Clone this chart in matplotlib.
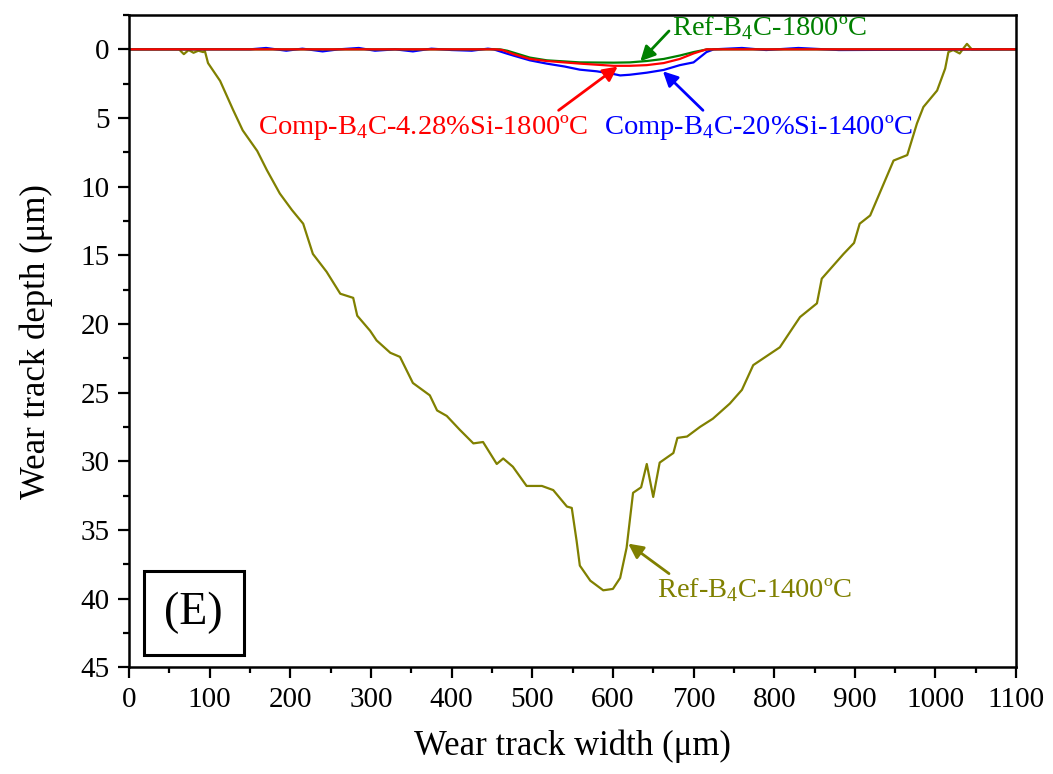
import numpy as np
import matplotlib
matplotlib.use("Agg")
import matplotlib.pyplot as plt
from matplotlib.ticker import MultipleLocator

plt.rcParams['font.family'] = ['Liberation Serif', 'DejaVu Serif']
plt.rcParams['mathtext.fontset'] = 'custom'
plt.rcParams['mathtext.rm'] = 'Liberation Serif'

# Ref-B4C-1400ºC profile (olive)
x_ref1400 = [0, 40, 62, 68, 74, 80, 86, 92, 94, 98, 113, 129, 141, 159, 171, 187, 202, 216, 228,
             245, 262, 278, 283, 299, 307, 324, 336, 352, 373, 382, 394, 410, 427, 439, 456, 464,
             476, 493, 512, 526, 543, 549, 555, 559, 572, 588, 600, 609, 617, 625, 635, 642, 650,
             658, 675, 680, 692, 708, 724, 745, 760, 774, 807, 824, 832, 853, 859, 886, 899, 906,
             919, 948, 965, 977, 985, 1002, 1012, 1016, 1022, 1030, 1035, 1039, 1045, 1100]
d_ref1400 = [0, 0, 0, 0.35, 0.05, 0.25, 0.1, 0.2, 0.1, 1.0, 2.3, 4.4, 5.9, 7.4, 8.8, 10.5, 11.7, 12.7, 14.9,
             16.2, 17.8, 18.1, 19.4, 20.5, 21.2, 22.1, 22.4, 24.3, 25.2, 26.3, 26.7, 27.7, 28.7, 28.6, 30.2, 29.8,
             30.4, 31.8, 31.8, 32.1, 33.3, 33.4, 35.8, 37.6, 38.7, 39.4, 39.3, 38.5, 36.3, 32.3, 31.9, 30.2, 32.6,
             30.1, 29.4, 28.3, 28.2, 27.5, 26.9, 25.8, 24.8, 23.0, 21.7, 20.2, 19.5, 18.5, 16.7, 14.9, 14.1, 12.7,
             12.1, 8.1, 7.7, 5.4, 4.2, 3.0, 1.4, 0.2, 0.05, 0.3, -0.1, -0.4, 0, 0]

# Ref-B4C-1800ºC (green)
x_ref1800 = [0, 460, 469, 497, 518, 559, 601, 621, 642, 663, 683, 700, 717, 1100]
d_ref1800 = [0, 0, 0.1, 0.6, 0.8, 0.95, 0.97, 0.95, 0.85, 0.7, 0.45, 0.2, 0, 0]

# Comp-B4C-4.28%Si-1800ºC (red)
x_comp1800 = [0, 455, 463, 477, 497, 518, 559, 601, 621, 642, 663, 683, 700, 716, 1100]
d_comp1800 = [0, 0, 0.05, 0.35, 0.7, 0.85, 1.04, 1.2, 1.2, 1.15, 1.0, 0.7, 0.3, 0, 0]

# Comp-B4C-20%Si-1400ºC (blue)
x_comp1400 = [0, 150, 170, 195, 215, 240, 260, 285, 305, 330, 352, 375, 400, 425, 445, 452, 468, 477,
              497, 518, 540, 559, 580, 601, 609, 621, 642, 663, 683, 700, 716, 725, 760, 790, 830, 880, 1100]
d_comp1400 = [0, 0, -0.1, 0.1, -0.05, 0.15, 0.0, -0.1, 0.1, 0.0, 0.15, -0.05, 0.05, 0.1, -0.05, 0.0, 0.3, 0.46,
              0.8, 1.04, 1.25, 1.48, 1.6, 1.8, 1.9, 1.85, 1.7, 1.5, 1.15, 0.95, 0.2, 0, -0.1, 0.05, -0.1, 0.05, 0]

fig = plt.figure(figsize=(10.53, 7.74), dpi=100)
ax = fig.add_axes([0.1225, 0.138, 0.8425, 0.8426])

ax.plot(x_ref1400, d_ref1400, color='#808000', lw=1.6)
ax.plot(x_comp1400, d_comp1400, color='#0000ff', lw=1.6)
ax.plot(x_ref1800, d_ref1800, color='#008000', lw=1.6)
ax.plot(x_comp1800, d_comp1800, color='#ff0000', lw=1.6)

ax.set_xlim(0, 1100)
ax.xaxis.set_major_locator(MultipleLocator(100))
ax.xaxis.set_minor_locator(MultipleLocator(50))
ax.yaxis.set_minor_locator(MultipleLocator(2.5))
ax.set_yticks(np.arange(0, 46, 5))
ax.set_ylim(45, -2.5)
ax.tick_params(which='major', direction='out', length=8, width=1.6, labelsize=21, pad=6)
ax.tick_params(which='minor', direction='out', length=4.5, width=1.6)
for s in ax.spines.values():
    s.set_linewidth(1.8)

ax.set_xlabel('Wear track width (μm)', fontsize=25, labelpad=12)
ax.set_ylabel('Wear track depth (μm)', fontsize=25, labelpad=20)

fs = 20.5
ap = dict(arrowstyle='-|>', lw=2, mutation_scale=22, shrinkA=0, shrinkB=0)
ax.annotate('Ref-B$_{4}$C-1800ºC', xy=(634, 0.87), xytext=(673, -1.55), color='#008000',
            fontsize=fs, ha='left', va='center',
            arrowprops=dict(ap, color='#008000', relpos=(0, 0.5)))
ax.annotate('Comp-B$_{4}$C-4.28%Si-1800ºC', xy=(606, 1.25), xytext=(160, 5.7), color='#ff0000',
            fontsize=fs, ha='left', va='center',
            arrowprops=dict(ap, color='#ff0000', relpos=(0.9, 1.0)))
ax.annotate('Comp-B$_{4}$C-20%Si-1400ºC', xy=(662, 1.6), xytext=(589, 5.7), color='#0000ff',
            fontsize=fs, ha='left', va='center',
            arrowprops=dict(ap, color='#0000ff', relpos=(0.33, 1.0)))
ax.annotate('Ref-B$_{4}$C-1400ºC', xy=(619, 36.0), xytext=(655, 39.4), color='#808000',
            fontsize=fs, ha='left', va='center',
            arrowprops=dict(ap, color='#808000', relpos=(0.08, 1.0)))

ax.text(0.073, 0.083, '(E)', transform=ax.transAxes, fontsize=33, ha='center', va='center',
        bbox=dict(boxstyle='square,pad=0.45', fc='white', ec='black', lw=2.2))

fig.savefig('out.png', dpi=100)
